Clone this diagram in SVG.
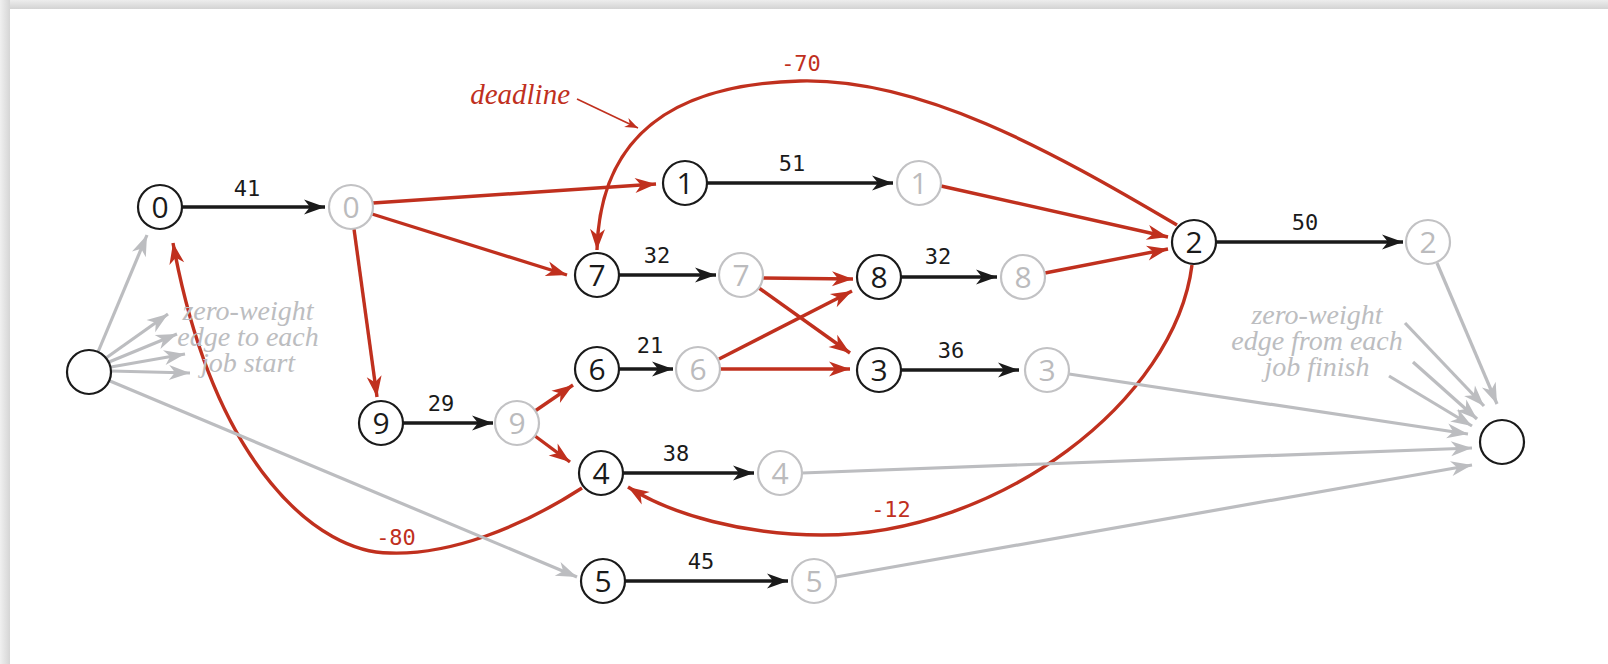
<svg xmlns="http://www.w3.org/2000/svg" width="1608" height="664" viewBox="0 0 1608 664">
<defs>
<linearGradient id="gTop" x1="0" y1="0" x2="0" y2="1"><stop offset="0" stop-color="#ededed"/><stop offset="1" stop-color="#d3d3d3"/></linearGradient>
<linearGradient id="gLeft" x1="0" y1="0" x2="1" y2="0"><stop offset="0" stop-color="#f0f0f0"/><stop offset="1" stop-color="#d5d5d5"/></linearGradient>
<marker id="aK" markerUnits="userSpaceOnUse" viewBox="-22 -10 24 20" refX="0" refY="0" markerWidth="24" markerHeight="20" orient="auto"><path d="M0,0 L-21,-7.5 L-15,0 L-21,7.5 Z" fill="#1a1a1a"/></marker>
<marker id="aR" markerUnits="userSpaceOnUse" viewBox="-22 -10 24 20" refX="0" refY="0" markerWidth="24" markerHeight="20" orient="auto"><path d="M0,0 L-21,-7.5 L-15,0 L-21,7.5 Z" fill="#c0301e"/></marker>
<marker id="aG" markerUnits="userSpaceOnUse" viewBox="-22 -10 24 20" refX="0" refY="0" markerWidth="24" markerHeight="20" orient="auto"><path d="M0,0 L-21,-7.5 L-15,0 L-21,7.5 Z" fill="#bcbdc0"/></marker>
<marker id="aRs" markerUnits="userSpaceOnUse" viewBox="-14 -7 16 14" refX="0" refY="0" markerWidth="16" markerHeight="14" orient="auto"><path d="M0,0 L-13,-5 L-9,0 L-13,5 Z" fill="#c0301e"/></marker>
</defs>
<style>
.k{stroke:#1a1a1a;stroke-width:3.4;fill:none;marker-end:url(#aK)}
.r{stroke:#c0301e;stroke-width:3.4;fill:none;marker-end:url(#aR)}
.g{stroke:#bcbdc0;stroke-width:3.2;fill:none;marker-end:url(#aG)}
.nb circle{fill:#fff;stroke:#1a1a1a;stroke-width:2.2}
.ng circle{fill:#fff;stroke:#c2c2c4;stroke-width:2.2}
.nb text,.ng text{font-family:"Open Sans","DejaVu Sans",sans-serif;font-size:30px;text-anchor:middle}
.nb text{fill:#1a1a1a}
.ng text{fill:#bbbbbd}
.w{font-family:"DejaVu Sans Mono","Liberation Mono",monospace;font-size:22px;text-anchor:middle;fill:#1a1a1a}
.wr{font-family:"DejaVu Sans Mono","Liberation Mono",monospace;font-size:22px;text-anchor:middle;fill:#c0301e}
.note{font-family:"Liberation Serif",serif;font-style:italic;font-size:28px;text-anchor:middle;fill:#bcbdc0}
.dl{font-family:"Liberation Serif",serif;font-style:italic;font-size:29px;text-anchor:end;fill:#c0301e}
</style>
<rect x="0" y="0" width="1608" height="664" fill="#ffffff"/>
<rect x="0" y="0" width="1608" height="9" fill="url(#gTop)"/>
<rect x="0" y="0" width="10" height="664" fill="url(#gLeft)"/>

<g id="connectors">
<line class="k" x1="182" y1="207" x2="325" y2="207"/>
<line class="k" x1="707" y1="183" x2="893" y2="183"/>
<line class="k" x1="619" y1="275" x2="716" y2="275"/>
<line class="k" x1="901" y1="277" x2="997" y2="277"/>
<line class="k" x1="901" y1="370" x2="1019" y2="370"/>
<line class="k" x1="1216" y1="242" x2="1403" y2="242"/>
<line class="k" x1="403" y1="423" x2="493" y2="423"/>
<line class="k" x1="619" y1="369" x2="673" y2="369"/>
<line class="k" x1="623" y1="473" x2="754" y2="473"/>
<line class="k" x1="625" y1="581" x2="788" y2="581"/>
<line class="r" x1="373" y1="203" x2="656" y2="184"/>
<line class="r" x1="372" y1="214" x2="567" y2="275"/>
<line class="r" x1="354" y1="229" x2="377" y2="397"/>
<line class="r" x1="535" y1="411" x2="573" y2="385"/>
<line class="r" x1="535" y1="436" x2="570" y2="462"/>
<line class="r" x1="763" y1="278" x2="853" y2="279"/>
<line class="r" x1="759" y1="288" x2="850" y2="353"/>
<line class="r" x1="719" y1="359" x2="852" y2="291"/>
<line class="r" x1="720" y1="369" x2="850" y2="369"/>
<line class="r" x1="941" y1="186" x2="1168" y2="237"/>
<line class="r" x1="1045" y1="273" x2="1168" y2="249"/>
<path class="r" d="M1177,225 C1050,150 920,78 800,81 C680,84 600,130 597,250"/>
<path class="r" d="M1192,265 C1175,400 1000,535 822,535 C745,535 672,515 628,487"/>
<path class="r" d="M582,488 C520,528 450,555 390,553 C320,553 215,470 173,243"/>
<line x1="577" y1="99" x2="638" y2="128" stroke="#c0301e" stroke-width="1.6" marker-end="url(#aRs)"/>
<line class="g" x1="98" y1="352" x2="147" y2="235"/>
<line class="g" x1="106" y1="358" x2="168" y2="314"/>
<line class="g" x1="109" y1="362" x2="177" y2="334"/>
<line class="g" x1="111" y1="367" x2="185" y2="354"/>
<line class="g" x1="111" y1="371" x2="190" y2="373"/>
<line class="g" x1="110" y1="381" x2="577" y2="577"/>
<line class="g" x1="1437" y1="263" x2="1497" y2="404"/>
<line class="g" x1="1405" y1="323" x2="1484" y2="406"/>
<line class="g" x1="1413" y1="362" x2="1477" y2="419"/>
<line class="g" x1="1389" y1="376" x2="1472" y2="426"/>
<line class="g" x1="1069" y1="374" x2="1468" y2="434"/>
<line class="g" x1="802" y1="473" x2="1472" y2="448"/>
<line class="g" x1="836" y1="577" x2="1472" y2="465"/>
</g>

<g id="labels">
<text class="w" x="247" y="196">41</text>
<text class="w" x="792" y="171">51</text>
<text class="w" x="657" y="263">32</text>
<text class="w" x="938" y="264">32</text>
<text class="w" x="951" y="358">36</text>
<text class="w" x="1305" y="230">50</text>
<text class="w" x="441" y="411">29</text>
<text class="w" x="650" y="353">21</text>
<text class="w" x="676" y="461">38</text>
<text class="w" x="701" y="569">45</text>
<text class="wr" x="801" y="71">-70</text>
<text class="wr" x="891" y="517">-12</text>
<text class="wr" x="396" y="545">-80</text>
<text class="dl" x="570" y="104">deadline</text>
<text class="note" x="248" y="320">zero-weight</text>
<text class="note" x="248" y="346">edge to each</text>
<text class="note" x="248" y="372">job start</text>
<text class="note" x="1317" y="324">zero-weight</text>
<text class="note" x="1317" y="350">edge from each</text>
<text class="note" x="1317" y="376">job finish</text>
</g>

<g id="source" class="nb"><circle cx="89" cy="372" r="22"/></g>
<g id="sink" class="nb"><circle cx="1502" cy="442" r="22"/></g>
<g id="start0" class="nb"><circle cx="160" cy="207" r="22"/><text x="160" y="218">0</text></g>
<g id="end0" class="ng"><circle cx="351" cy="207" r="22"/><text x="351" y="218">0</text></g>
<g id="start1" class="nb"><circle cx="685" cy="183" r="22"/><text x="685" y="194">1</text></g>
<g id="end1" class="ng"><circle cx="919" cy="183" r="22"/><text x="919" y="194">1</text></g>
<g id="start7" class="nb"><circle cx="597" cy="275" r="22"/><text x="597" y="286">7</text></g>
<g id="end7" class="ng"><circle cx="741" cy="275" r="22"/><text x="741" y="286">7</text></g>
<g id="start8" class="nb"><circle cx="879" cy="277" r="22"/><text x="879" y="288">8</text></g>
<g id="end8" class="ng"><circle cx="1023" cy="277" r="22"/><text x="1023" y="288">8</text></g>
<g id="start2" class="nb"><circle cx="1194" cy="242" r="22"/><text x="1194" y="253">2</text></g>
<g id="end2" class="ng"><circle cx="1428" cy="242" r="22"/><text x="1428" y="253">2</text></g>
<g id="start6" class="nb"><circle cx="597" cy="369" r="22"/><text x="597" y="380">6</text></g>
<g id="end6" class="ng"><circle cx="698" cy="369" r="22"/><text x="698" y="380">6</text></g>
<g id="start3" class="nb"><circle cx="879" cy="370" r="22"/><text x="879" y="381">3</text></g>
<g id="end3" class="ng"><circle cx="1047" cy="370" r="22"/><text x="1047" y="381">3</text></g>
<g id="start9" class="nb"><circle cx="381" cy="423" r="22"/><text x="381" y="434">9</text></g>
<g id="end9" class="ng"><circle cx="517" cy="423" r="22"/><text x="517" y="434">9</text></g>
<g id="start4" class="nb"><circle cx="601" cy="473" r="22"/><text x="601" y="484">4</text></g>
<g id="end4" class="ng"><circle cx="780" cy="473" r="22"/><text x="780" y="484">4</text></g>
<g id="start5" class="nb"><circle cx="603" cy="581" r="22"/><text x="603" y="592">5</text></g>
<g id="end5" class="ng"><circle cx="814" cy="581" r="22"/><text x="814" y="592">5</text></g>
</svg>
